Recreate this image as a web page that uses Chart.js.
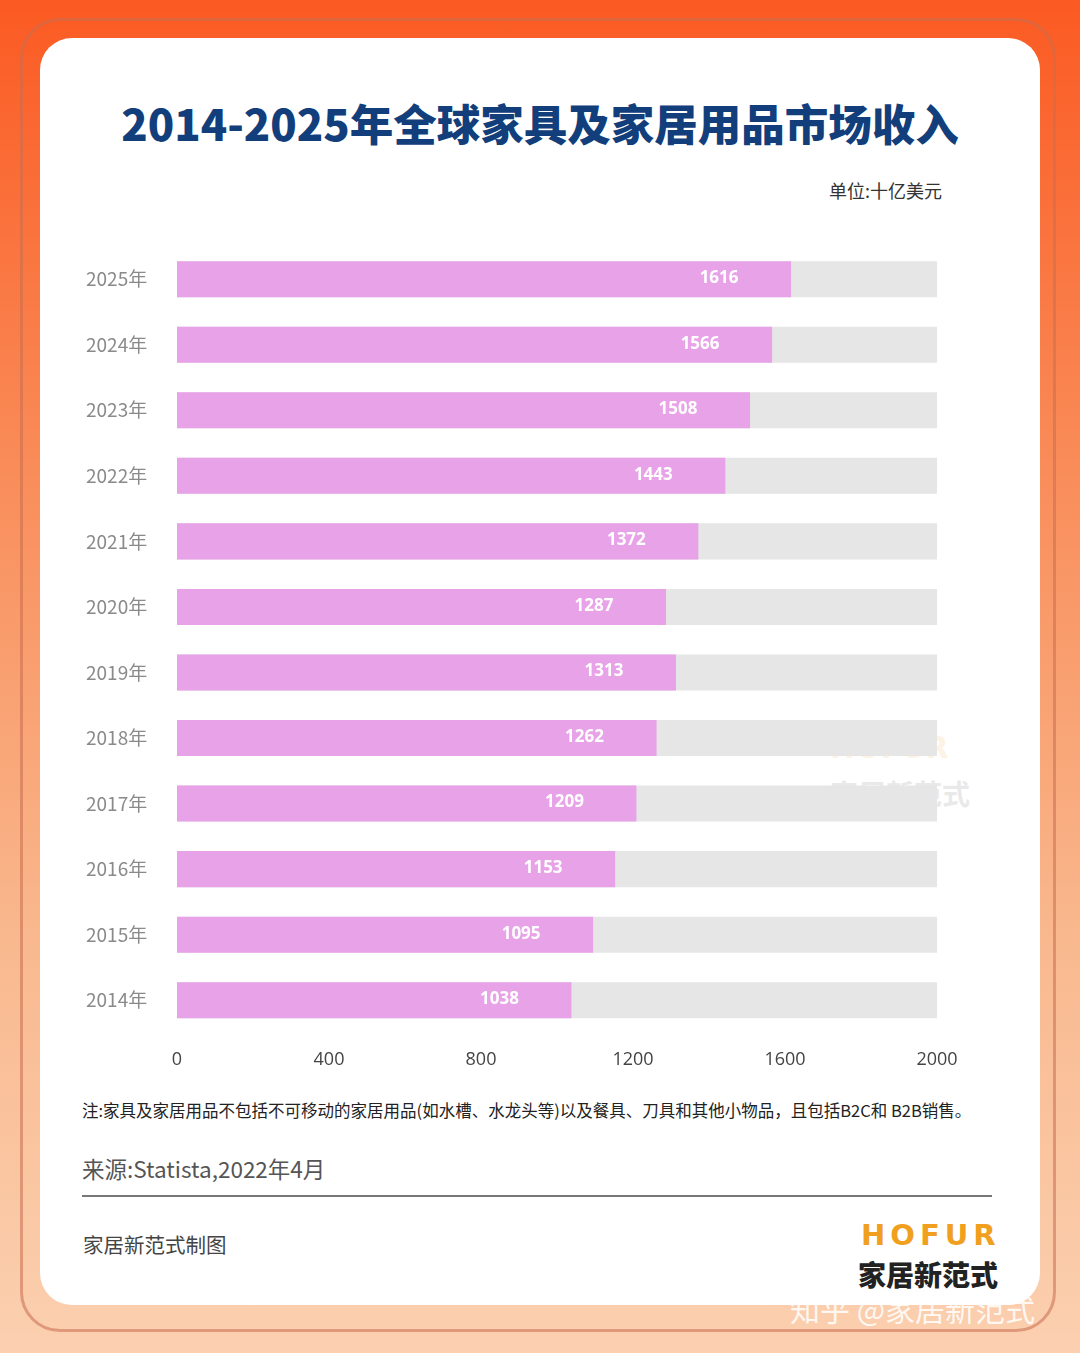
<!DOCTYPE html>
<html><head><meta charset="utf-8">
<script src="https://cdn.jsdelivr.net/npm/chart.js@4"></script>
<style>
body{margin:0;width:1080px;height:1353px;position:relative;overflow:hidden;font-family:"Noto Sans CJK SC","Noto Sans",sans-serif;
background:linear-gradient(180deg,#fb5a22 0%,#f98d5a 35%,#f9b98f 70%,#fbd0b0 100%);}
.frame{position:absolute;left:20px;top:18px;width:1036px;height:1314px;border:3px solid rgba(200,110,80,0.55);border-radius:40px;box-sizing:border-box;}
.card{position:absolute;left:40px;top:38px;width:1000px;height:1267px;background:#fff;border-radius:32px;}
.t{position:absolute;white-space:nowrap;}
</style></head><body>
<div class="frame"></div><div class="card"></div>
<div class="t" style="left:0;width:1080px;text-align:center;top:91px;font-size:43.5px;font-weight:900;color:#123f7c;">2014-2025年全球家具及家居用品市场收入</div>
<div class="t" style="right:138px;top:177px;font-size:18px;color:#333;">单位:十亿美元</div>
<div class="t" style="left:830px;top:730px;font-size:30px;font-weight:900;color:rgba(245,180,90,0.18);font-family:'DejaVu Sans';">HOFUR</div>
<div class="t" style="left:830px;top:773px;font-size:28px;font-weight:700;color:rgba(180,180,180,0.3);">家居新范式</div>
<div style="position:absolute;left:40px;top:232px;width:960px;height:848px;"><canvas id="c"></canvas></div>
<div class="t" style="left:82px;top:1098px;font-size:16.5px;color:#222;">注:家具及家居用品不包括不可移动的家居用品(如水槽、水龙头等)以及餐具、刀具和其他小物品，且包括B2C和 B2B销售。</div>
<div class="t" style="left:82px;top:1152px;font-size:22.5px;color:#555;">来源:Statista,2022年4月</div>
<div style="position:absolute;left:82px;top:1195px;width:910px;height:2px;background:#777;"></div>
<div class="t" style="left:83px;top:1229px;font-size:20.5px;color:#444;">家居新范式制图</div>
<div class="t" style="left:861px;top:1218px;font-size:29px;font-weight:900;color:#f0a01e;font-family:'DejaVu Sans';letter-spacing:5px;">HOFUR</div>
<div class="t" style="left:858px;top:1254px;font-size:28px;font-weight:900;color:#222;">家居新范式</div>
<div class="t" style="left:790px;top:1286px;font-size:30px;color:rgba(255,255,255,0.85);">知乎 @家居新范式</div>
<script>
const categories=["2025年","2024年","2023年","2022年","2021年","2020年","2019年","2018年","2017年","2016年","2015年","2014年"];
const values=[1616,1566,1508,1443,1372,1287,1313,1262,1209,1153,1095,1038];
const maxVal=2000;
const xTicks=[0,400,800,1200,1600,2000];
const labelPlugin={id:'lbl',afterDatasetsDraw(ch){const ctx=ch.ctx;const meta=ch.getDatasetMeta(1);
ctx.save();ctx.fillStyle='#fff';ctx.font='bold 17px "Open Sans","Noto Sans",sans-serif';ctx.textAlign='center';ctx.textBaseline='middle';
meta.data.forEach((b,i)=>{ctx.fillText(values[i],b.x-72,b.y-1);});ctx.restore();}};
new Chart(document.getElementById('c'),{type:'bar',
data:{labels:categories,datasets:[
{data:categories.map(()=>maxVal),backgroundColor:'#e6e6e6',grouped:false,order:2,barPercentage:0.55,categoryPercentage:1},
{data:values,backgroundColor:'#e8a2e8',grouped:false,order:1,barPercentage:0.55,categoryPercentage:1}]},
options:{indexAxis:'y',responsive:true,maintainAspectRatio:false,animation:false,
layout:{padding:{left:46,right:63,top:0,bottom:0}},
plugins:{legend:{display:false},tooltip:{enabled:false}},
scales:{x:{min:0,max:maxVal,afterBuildTicks(s){s.ticks=xTicks.map(v=>({value:v}));},afterFit(s){s.height=47;},
grid:{display:false},border:{display:false},ticks:{color:'#444',callback:v=>String(v),font:{size:18,family:'"Open Sans","Noto Sans"'},padding:8,maxRotation:0}},
y:{afterFit(s){s.width=91;},grid:{display:false},border:{display:false},
ticks:{crossAlign:'far',color:'#8a8a8a',font:{size:19,family:'"Noto Sans CJK SC"'}}}}},
plugins:[labelPlugin]});
</script></body></html>
